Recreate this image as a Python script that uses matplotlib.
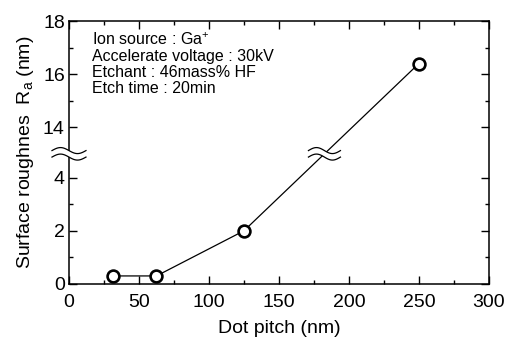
import numpy as np
import matplotlib
matplotlib.use("Agg")
import matplotlib.pyplot as plt
from matplotlib.patches import Polygon

# data
pitch = [31.25, 62.5, 125, 250]
ra = [0.3, 0.3, 2.0, 16.4]
x_ticks = [0, 50, 100, 150, 200, 250, 300]
x_minor = [25, 75, 125, 175, 225, 275]
y_ticks = [0, 2, 4, 14, 16, 18]
y_minor = [1, 3, 15, 17]
notes = ["Ion source : Ga$^{+}$",
         "Accelerate voltage : 30kV",
         "Etchant : 46mass% HF",
         "Etch time : 20min"]

plt.rcParams['font.family'] = ['Liberation Sans', 'DejaVu Sans']
plt.rcParams['mathtext.default'] = 'regular'

# broken y axis: squeeze 4.9..13 to (almost) nothing
lo, hi = 4.9, 13.0
eps = 1e-3
src = [-100, lo, hi, 100]
dst = [-100, lo, lo + eps, 100 - (hi - lo) + eps]


def fwd(y):
    return np.interp(y, src, dst)


def inv(y):
    return np.interp(y, dst, src)


fig = plt.figure(figsize=(5.05, 3.4), dpi=100)
ax = fig.add_axes([0.1366, 0.165, 0.968 - 0.1366, 0.938 - 0.165])
ax.set_yscale('function', functions=(fwd, inv))
ax.set_xlim(0, 300)
ax.set_ylim(0, 18)

ax.plot(pitch, ra, '-', color='black', lw=0.9, marker='o', ms=8.5,
        mfc='white', mec='black', mew=1.9, zorder=4, clip_on=False)

ax.set_xticks(x_ticks)
ax.set_xticks(x_minor, minor=True)
ax.set_yticks(y_ticks)
ax.set_yticks(y_minor, minor=True)
ax.set_yticklabels([str(v) for v in y_ticks])
ax.yaxis.set_minor_formatter(matplotlib.ticker.NullFormatter())
ax.tick_params(which='both', direction='in', top=True, right=True,
               width=1.0, labelsize=14)
ax.tick_params(which='major', length=6)
ax.tick_params(which='minor', length=3)
ax.tick_params(axis='x', pad=7)
ax.tick_params(axis='y', pad=3)
for s in ax.spines.values():
    s.set_linewidth(1.1)

ax.set_xlabel("Dot pitch (nm)", fontsize=14, labelpad=7)
ax.set_ylabel("Surface roughnes  R$_a$ (nm)", fontsize=14, labelpad=5)

ax.text(0.055, 0.96, "\n".join(notes), transform=ax.transAxes,
        va='top', ha='left', fontsize=11.5, linespacing=1.08)

bb = ax.get_window_extent()
W, H = bb.width, bb.height


def wave_break(cx, cy, wpx, gap_px=6.5, amp_px=3.0):
    t = np.linspace(0, 2 * np.pi, 60)
    xs = cx + (t / (2 * np.pi) - 0.5) * wpx / W
    y1 = cy + (gap_px / 2 + amp_px * np.sin(t)) / H
    y2 = cy + (-gap_px / 2 + amp_px * np.sin(t)) / H
    poly = np.column_stack([np.r_[xs, xs[::-1]], np.r_[y1, y2[::-1]]])
    ax.add_patch(Polygon(poly, closed=True, fc='white', ec='none',
                         transform=ax.transAxes, clip_on=False, zorder=5))
    for yy in (y1, y2):
        ax.plot(xs, yy, color='black', lw=0.9, transform=ax.transAxes,
                clip_on=False, zorder=6)


# where the break sits in axes fraction
to_ax = ax.transData + ax.transAxes.inverted()
yb = to_ax.transform([(0, lo)])[0][1]
wave_break(0.0, yb, 34)

# where the line from 125 to 250 crosses the break
p0 = to_ax.transform([(pitch[2], ra[2])])[0]
p1 = to_ax.transform([(pitch[3], ra[3])])[0]
f = (yb - p0[1]) / (p1[1] - p0[1])
wave_break(p0[0] + f * (p1[0] - p0[0]), yb, 32)

fig.savefig("out.png", dpi=100)
